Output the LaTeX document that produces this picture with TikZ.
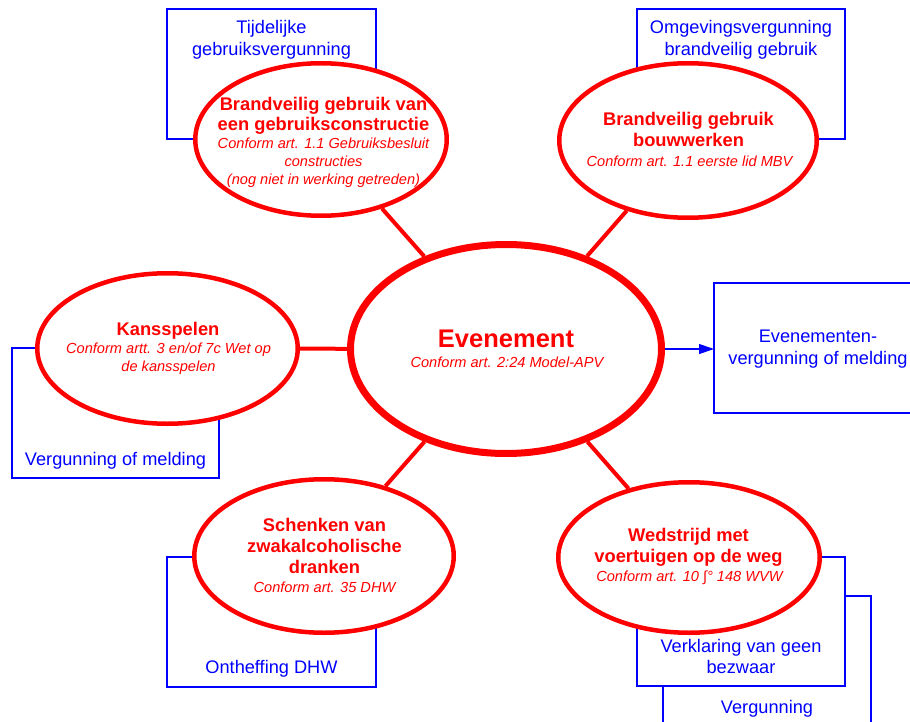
\documentclass[tikz,border=0pt]{standalone}
\usepackage{fontspec}
\setmainfont{Liberation Sans}
\usetikzlibrary{shapes.geometric,arrows.meta}
\begin{document}
\begin{tikzpicture}[x=1pt,y=-1pt,
  redell/.style={ellipse, draw=red, fill=white, line width=4.5pt, inner sep=0pt},
  mainell/.style={ellipse, draw=red, fill=white, line width=7pt, inner sep=0pt},
  bbox/.style={rectangle, draw=blue, fill=white, line width=1.2pt, inner sep=0pt, outer sep=0pt, anchor=north west},
  btxt/.style={text=blue, align=center, inner sep=0pt, font=\fontsize{18.2}{21.5}\selectfont},
  ttl/.style={text=red, align=center, inner sep=0pt, font=\bfseries\fontsize{18.3}{21}\selectfont},
  sub/.style={text=red, align=center, inner sep=0pt, font=\itshape\fontsize{14.6}{17.6}\selectfont},
  conn/.style={draw=red, line width=4pt},
  arr/.style={draw=blue, line width=1.2pt, -{Triangle[length=15pt,width=10pt]}}
]
\useasboundingbox (0,0) rectangle (910,722);
\clip (0,0) rectangle (910,722);
\fill[white] (0,0) rectangle (910,722);

% blue boxes
\node[bbox, minimum width=209pt, minimum height=130pt] (b1) at (167,9) {};
\node[bbox, minimum width=208pt, minimum height=130pt] (b2) at (637,9) {};
\node[bbox, minimum width=208pt, minimum height=130pt] (b3) at (714,283) {};
\node[bbox, minimum width=207pt, minimum height=130pt] (b4) at (12,348) {};
\node[bbox, minimum width=209pt, minimum height=130pt] (b5) at (167,557) {};
\node[bbox, minimum width=208pt, minimum height=130pt] (b7) at (663,596) {};
\node[bbox, minimum width=208pt, minimum height=129pt] (b6) at (637,557) {};

% ellipses
\node[mainell, minimum width=311pt, minimum height=209pt] (c) at (506,349) {};
\node[redell, minimum width=251.5pt, minimum height=152.5pt] (tl) at (321,139.5) {};
\node[redell, minimum width=257.5pt, minimum height=154.5pt] (tr) at (688,140.5) {};
\node[redell, minimum width=260.5pt, minimum height=150.5pt] (k) at (167.5,348.5) {};
\node[redell, minimum width=259.5pt, minimum height=153.5pt] (s) at (324,556) {};
\node[redell, minimum width=261.5pt, minimum height=150.5pt] (w) at (689,557.5) {};

% connectors
\draw[conn] (c) -- (tl);
\draw[conn] (c) -- (tr);
\draw[conn] (c) -- (k);
\draw[conn] (c) -- (s);
\draw[conn] (c) -- (w);
\draw[arr] (c.east) -- (c.east -| b3.west);

% box texts
\node[btxt] (b1t) at (271.5,40) {Tijdelijke\\gebruiksvergunning};
\node[btxt] (b2t) at (741,40) {Omgevingsvergunning\\brandveilig gebruik};
\node[btxt] (b3t) at (818,349) {Evenementen-\\vergunning of melding};
\node[btxt, anchor=base] (b4t) at (115.5,465) {Vergunning of melding};
\node[btxt, anchor=base] (b5t) at (271.5,673) {Ontheffing DHW};
\node[btxt] (b6t) at (741,656.5) {Verklaring van geen\\bezwaar};
\node[btxt, anchor=base] (b7t) at (767,713) {Vergunning};

% ellipse texts
\node[text=red, inner sep=0pt, anchor=base, font=\bfseries\fontsize{25.5}{30}\selectfont] (ct) at (506,347) {Evenement};
\node[sub, anchor=base] (cs) at (507,367.7) {Conform art. 2:24 Model-APV};

\node[ttl, font=\bfseries\fontsize{18.3}{20}\selectfont] (tlt) at (323.5,115.6) {Brandveilig gebruik van\\een gebruiksconstructie};
\node[sub] (tls) at (323.5,162.7) {Conform art. 1.1 Gebruiksbesluit\\constructies\\(nog niet in werking getreden)};

\node[ttl] (trt) at (688.5,129.5) {Brandveilig gebruik\\bouwwerken};
\node[sub, anchor=base] (trs) at (689.5,166.7) {Conform art. 1.1 eerste lid MBV};

\node[ttl, anchor=base] (kt) at (168,335.7) {Kansspelen};
\node[sub] (ks) at (168.5,359) {Conform artt. 3 en/of 7c Wet op\\de kansspelen};

\node[ttl] (st) at (324.5,545.5) {Schenken van\\zwakalcoholische\\dranken};
\node[sub, anchor=base] (ss) at (324.5,592.7) {Conform art. 35 DHW};

\node[ttl] (wt) at (688.5,547.8) {Wedstrijd met\\voertuigen op de weg};
\node[sub, anchor=base] (ws) at (689.5,581.7) {Conform art. 10 ∫° 148 WVW};
\end{tikzpicture}
\end{document}
